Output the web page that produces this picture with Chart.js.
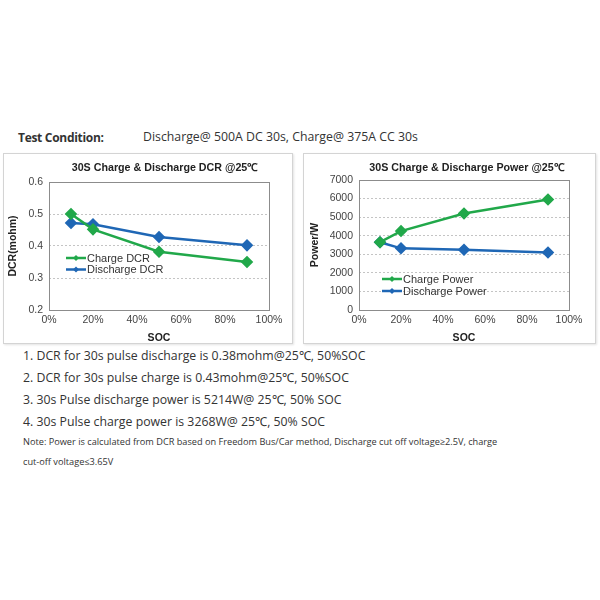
<!DOCTYPE html>
<html>
<head>
<meta charset="utf-8">
<title>30S Charge & Discharge DCR / Power</title>
<style>
  body { margin: 0; width: 600px; height: 600px; background: #fff; position: relative; overflow: hidden; font-family: "Open Sans", sans-serif; color: #333; }
  .abs { position: absolute; white-space: nowrap; }
  .box { position: absolute; border: 1px solid #d4d4d4; box-shadow: 1px 1px 2px #e4e4e4; background: #fff; }
  .line { font-size: 12.3px; left: 23px; }
  .note { font-size: 9.2px; left: 23px; }
</style>
</head>
<body>
<div class="abs" style="left:18px; top:129px; font-size:12px; font-weight:bold; letter-spacing:-0.3px;">Test Condition:</div>
<div class="abs" style="left:143px; top:128px; font-size:12.3px;">Discharge@ 500A DC 30s, Charge@ 375A CC 30s</div>

<div class="box" style="left:3px; top:153px; width:288px; height:189px;"><canvas id="dcr"></canvas></div>
<div class="box" style="left:303px; top:153px; width:291px; height:189px;"><canvas id="power"></canvas></div>

<div class="abs line" style="top:347px;">1. DCR for 30s pulse discharge is 0.38mohm@25℃, 50%SOC</div>
<div class="abs line" style="top:369px;">2. DCR for 30s pulse charge is 0.43mohm@25℃, 50%SOC</div>
<div class="abs line" style="top:391px;">3. 30s Pulse discharge power is 5214W@ 25℃, 50% SOC</div>
<div class="abs line" style="top:413px;">4. 30s Pulse charge power is 3268W@ 25℃, 50% SOC</div>
<div class="abs note" style="top:435px;">Note: Power is calculated from DCR based on Freedom Bus/Car method, Discharge cut off voltage≥2.5V, charge</div>
<div class="abs note" style="top:455px;">cut-off voltage≤3.65V</div>

<script src="https://cdn.jsdelivr.net/npm/chart.js"></script>
<script>
// SOC points (%)
var soc = [10, 20, 50, 90];
var chargeDcr = [0.50, 0.452, 0.382, 0.35];
var dischargeDcr = [0.472, 0.468, 0.428, 0.402];
var chargePower = [3650, 4250, 5200, 5950];
var dischargePower = [3650, 3320, 3250, 3100];

var green = "#21a84a";
var blue = "#1f67b5";
var font = "'Liberation Sans', Arial, sans-serif";

function pts(ys) {
    return soc.map(function (x, i) { return {x: x, y: ys[i]}; });
}

// title, x title, plot frame and inside legend
var deco = {
    id: "deco",
    beforeDatasetsDraw: function (chart) {
        var c = chart.ctx, a = chart.chartArea;
        c.save();
        c.strokeStyle = "#8c8c8c";
        c.lineWidth = 1;
        c.strokeRect(Math.round(a.left) + 0.5, Math.round(a.top) + 0.5, Math.round(a.width), Math.round(a.height));
        c.restore();
    },
    afterDraw: function (chart, args, o) {
        var c = chart.ctx, a = chart.chartArea;
        c.save();
        c.fillStyle = "#222";
        c.font = "bold 10.7px " + font;
        c.textAlign = "center";
        c.textBaseline = "middle";
        c.fillText(o.title, o.titleX, 14);
        c.font = "bold 10.5px " + font;
        c.fillText("SOC", (a.left + a.right) / 2, 184);
        c.font = "11px " + font;
        c.textAlign = "left";
        chart.data.datasets.forEach(function (ds, i) {
            var y = o.legendY + i * o.legendGap;
            c.strokeStyle = ds.borderColor;
            c.lineWidth = 2.5;
            c.beginPath();
            c.moveTo(o.legendX, y);
            c.lineTo(o.legendX + o.legendLen, y);
            c.stroke();
            c.fillStyle = ds.borderColor;
            c.beginPath();
            var mx = o.legendX + o.legendLen / 2;
            c.moveTo(mx, y - 3); c.lineTo(mx + 3, y); c.lineTo(mx, y + 3); c.lineTo(mx - 3, y);
            c.fill();
            c.fillStyle = "#333";
            c.fillText(ds.label, o.legendX + o.legendLen + 1, y + 0.5);
        });
        c.restore();
    }
};

function makeChart(id, sets, yMin, yMax, yStep, yTitle, yTitlePad, yWidth, bottomH, padTop, padRight, decoOpts, yDigits) {
    return new Chart(document.getElementById(id), {
        type: "scatter",
        data: {
            datasets: sets.map(function (s) {
                return {
                    label: s[0],
                    data: pts(s[1]),
                    showLine: true,
                    borderColor: s[2],
                    backgroundColor: s[2],
                    borderWidth: 2.5,
                    pointStyle: "rectRot",
                    pointRadius: 4.5,
                    pointHoverRadius: 4.5
                };
            })
        },
        options: {
            responsive: false,
            animation: false,
            devicePixelRatio: 1,
            layout: {padding: {top: padTop, right: padRight, left: 0, bottom: 0}},
            plugins: {legend: {display: false}, tooltip: {enabled: false}, deco: decoOpts},
            scales: {
                x: {
                    type: "linear", min: 0, max: 100,
                    ticks: {stepSize: 20, color: "#444", font: {family: font, size: 10.5}, padding: 4,
                        callback: function (v) { return v + "%"; }},
                    grid: {display: false, drawTicks: false},
                    border: {display: false},
                    title: {display: false, text: "SOC"},
                    afterFit: function (s) { s.height = bottomH; }
                },
                y: {
                    min: yMin, max: yMax,
                    ticks: {stepSize: yStep, color: "#444", font: {family: font, size: 10.5}, padding: 6,
                        callback: function (v) { return yDigits ? v.toFixed(yDigits) : v; }},
                    grid: {color: "#c4c4c4", drawTicks: false, lineWidth: 1},
                    border: {display: false, dash: [2, 2]},
                    title: {display: true, text: yTitle, color: "#222", font: {family: font, size: 10.5, weight: "bold"}, padding: {top: yTitlePad, bottom: 0}},
                    afterFit: function (s) { s.width = yWidth; }
                }
            }
        },
        plugins: [deco]
    });
}

var c1 = document.getElementById("dcr"); c1.width = 288; c1.height = 189;
var c2 = document.getElementById("power"); c2.width = 291; c2.height = 189;

Chart.defaults.elements.line.tension = 0;

makeChart("dcr",
    [["Charge DCR", chargeDcr, green], ["Discharge DCR", dischargeDcr, blue]],
    0.2, 0.6, 0.1, "DCR(mohm)", 3, 45, 33, 28, 23,
    {title: "30S Charge & Discharge DCR @25\u2103", titleX: 161, legendX: 62, legendY: 104, legendGap: 11.5, legendLen: 20}, 1);

makeChart("power",
    [["Charge Power", chargePower, green], ["Discharge Power", dischargePower, blue]],
    0, 7000, 1000, "Power/W", 5, 55, 33, 26, 26,
    {title: "30S Charge & Discharge Power @25\u2103", titleX: 163, legendX: 78, legendY: 125, legendGap: 12, legendLen: 20}, 0);
</script>
</body>
</html>
